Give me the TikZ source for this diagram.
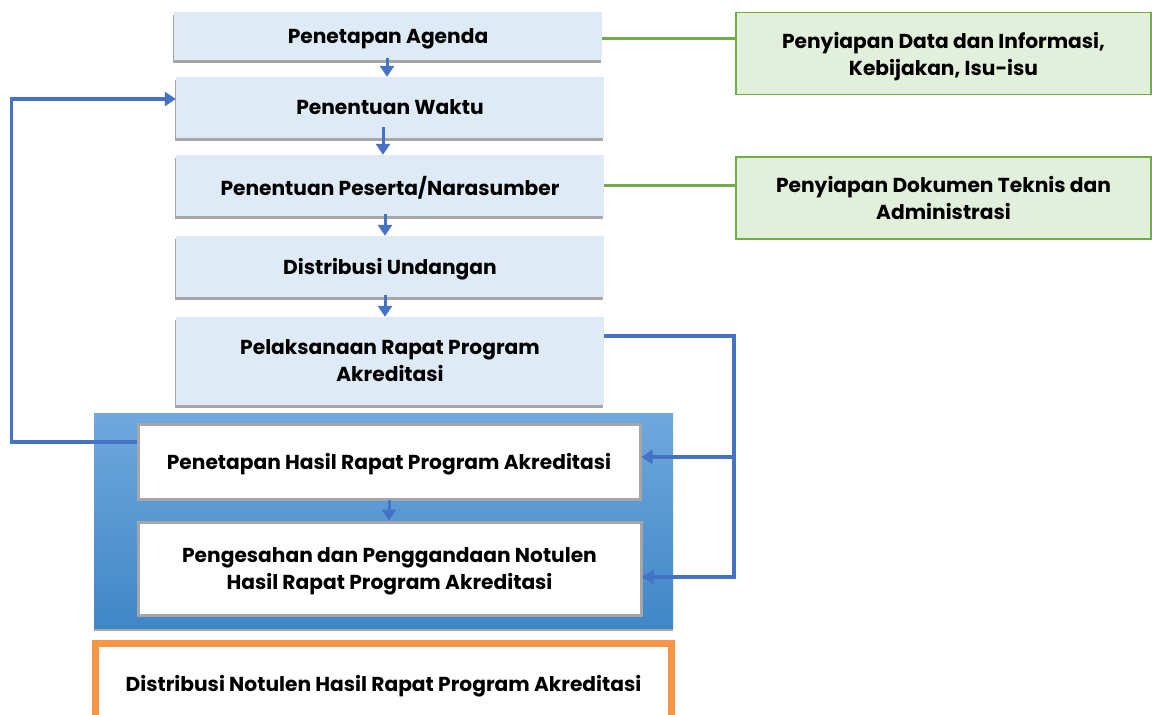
\documentclass[tikz,border=0pt]{standalone}
\usepackage{fontspec}
\setmainfont{Poppins}
\usetikzlibrary{arrows.meta,shadows}
\definecolor{lblue}{HTML}{DEEAF6}
\definecolor{sgray}{HTML}{A6A6A6}
\definecolor{ablue}{HTML}{4472C4}
\definecolor{gfill}{HTML}{E2EFDA}
\definecolor{gline}{HTML}{70AD47}
\definecolor{orng}{HTML}{F79646}
\definecolor{ctop}{HTML}{70A8DD}
\definecolor{cbot}{HTML}{3F87C8}
\begin{document}
\begin{tikzpicture}[x=1pt,y=-1pt,
  txt/.style={font=\bfseries\fontsize{20.2}{27}\selectfont, align=center, text=black, text depth=-3pt},
  lbox/.style={txt, fill=lblue, inner sep=0pt, minimum width=428pt,
    drop shadow={shadow xshift=-1pt, shadow yshift=-3pt, fill=sgray, opacity=1}},
  wbox/.style={txt, fill=white, draw=sgray, line width=3pt, inner sep=0pt},
  gbox/.style={txt, fill=gfill, draw=gline, line width=1.2pt, inner sep=0pt, minimum width=415pt, text depth=-5pt},
  tip/.style={-{Triangle[width=14pt,length=11pt]}},
  flow/.style={draw=ablue, line width=3pt, tip},
  link/.style={draw=gline, line width=3pt},
  fback/.style={draw=ablue, line width=3.5pt}]
\useasboundingbox (0,0) rectangle (1152,715);

% main column
\node[lbox, minimum height=48pt] (b1) at (388,36) {Penetapan Agenda};
\node[lbox, minimum height=61pt, text depth=-5pt] (b2) at (390,107.5) {Penentuan Waktu};
\node[lbox, minimum height=61pt, text depth=-1pt] (b3) at (390,185.5) {Penentuan Peserta/Narasumber};
\node[lbox, minimum height=61pt] (b4) at (390,266.5) {Distribusi Undangan};
\node[lbox, minimum height=88pt] (b5) at (390,361) {Pelaksanaan Rapat Program\\Akreditasi};

% container
\node[top color=ctop, bottom color=cbot, minimum width=579pt, minimum height=215pt, inner sep=0pt,
  drop shadow={shadow xshift=0pt, shadow yshift=-3pt, fill=sgray, opacity=1}] (cont) at (383.5,520.5) {};
\node[wbox, minimum width=502pt, minimum height=75pt, text depth=-1pt] (b6) at (389,461.5) {Penetapan Hasil Rapat Program Akreditasi};
\node[wbox, minimum width=503pt, minimum height=93pt] (b7) at (389.5,568.5) {Pengesahan dan Penggandaan Notulen\\Hasil Rapat Program Akreditasi};

% orange
\node[txt, draw=orng, line width=6.5pt, fill=white, minimum width=576pt, minimum height=81pt, inner sep=0pt, text depth=1pt] (b8) at (383.5,684) {Distribusi Notulen Hasil Rapat Program Akreditasi};

% green side boxes
\node[gbox, minimum height=82pt] (g1) at (943.5,53.5) {Penyiapan Data dan Informasi,\\Kebijakan, Isu-isu};
\node[gbox, minimum height=82pt] (g2) at (943.5,198) {Penyiapan Dokumen Teknis dan\\Administrasi};

\draw[link] ([yshift=-2pt]b1.east) -- ([yshift=-2pt]b1.east -| g1.west);
\draw[link] (b3.east) -- (b3.east -| g2.west);

% flow arrows
\draw[flow] ([xshift=-1pt,yshift=2pt]b1.south) -- ([xshift=-1pt]b1.south |- b2.north);
\draw[flow] ([xshift=-7pt,yshift=11pt]b2.south) -- ([xshift=-7pt]b2.south |- b3.north);
\draw[flow] ([xshift=-5pt,yshift=2pt]b3.south) -- ([xshift=-5pt]b3.south |- b4.north);
\draw[flow] ([xshift=-5pt,yshift=2pt]b4.south) -- ([xshift=-5pt]b4.south |- b5.north);
\draw[flow] ([yshift=1pt]b6.south) -- (b6.south |- b7.north);

% feedback to Penentuan Waktu
\draw[fback, tip] ([yshift=19.5pt]b6.west) -- ++(-125,0) |- ([yshift=8.5pt]b2.west);

% feed from Pelaksanaan to Hasil boxes
\coordinate (rx) at (734,0);
\draw[fback] ([yshift=25pt]b5.east) -| ([yshift=-8.5pt]rx |- b7.east) -- ([yshift=-8.5pt]b7.east);
\draw[fback, tip] ([yshift=-8.5pt]rx |- b7.east) -- ([yshift=-8.5pt]b7.east);
\draw[fback, tip] ([yshift=4.5pt]rx |- b6.east) -- ([yshift=4.5pt]b6.east);
\end{tikzpicture}
\end{document}
